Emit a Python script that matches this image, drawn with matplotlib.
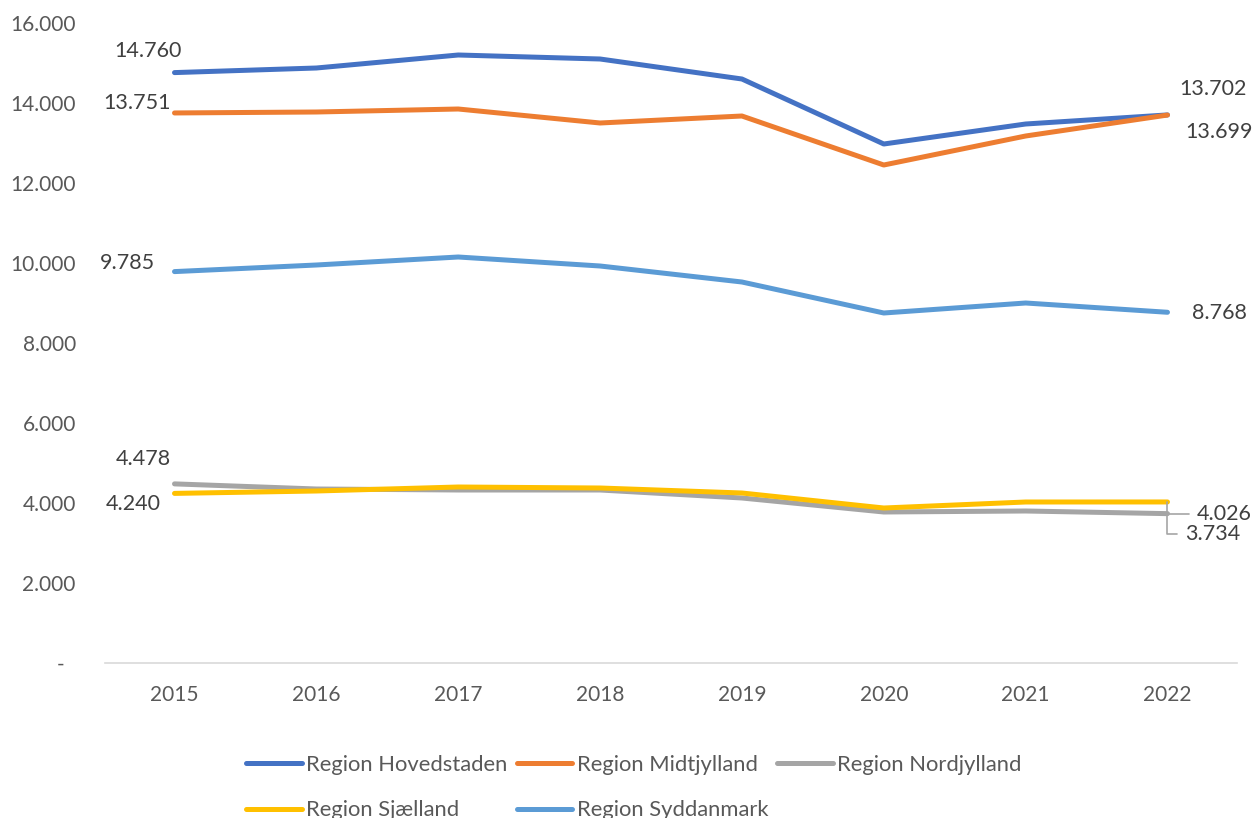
import matplotlib
matplotlib.use("Agg")
import matplotlib.pyplot as plt
from matplotlib.ticker import FuncFormatter

plt.rcParams['font.family'] = ['Lato', 'DejaVu Sans']

years = [2015, 2016, 2017, 2018, 2019, 2020, 2021, 2022]
hovedstaden = [14760, 14875, 15200, 15100, 14600, 12975, 13475, 13702]
midtjylland = [13751, 13775, 13850, 13500, 13675, 12450, 13175, 13699]
nordjylland = [4478, 4350, 4325, 4325, 4125, 3775, 3800, 3734]
sjaelland = [4240, 4300, 4400, 4375, 4250, 3875, 4025, 4026]
syddanmark = [9785, 9950, 10150, 9925, 9525, 8750, 9000, 8768]

series = [
    ("Region Hovedstaden", hovedstaden, "#4472C4"),
    ("Region Midtjylland", midtjylland, "#ED7D31"),
    ("Region Nordjylland", nordjylland, "#A5A5A5"),
    ("Region Sjælland", sjaelland, "#FFC000"),
    ("Region Syddanmark", syddanmark, "#5B9BD5"),
]

fig = plt.figure(figsize=(12.56, 8.18), dpi=100)
ax = fig.add_axes([105/1256, 155/818, 1132/1256, 640/818])

for name, vals, col in series:
    ax.plot(years, vals, color=col, lw=3.6, label=name,
            solid_capstyle='round', solid_joinstyle='round')

ax.set_xlim(2014.51, 2022.49)
ax.set_ylim(0, 16000)
ax.set_yticks(range(0, 16001, 2000))
ax.set_xticks(years)


def fmt(v, pos):
    if v == 0:
        return "-  "
    return f"{int(v):,}".replace(",", ".")


ax.yaxis.set_major_formatter(FuncFormatter(fmt))
for s in ['top', 'right', 'left']:
    ax.spines[s].set_visible(False)
ax.spines['bottom'].set_color('#D9D9D9')
ax.spines['bottom'].set_linewidth(1.2)
ax.tick_params(axis='both', length=0, labelsize=15, colors='#595959')
ax.tick_params(axis='x', pad=16)
ax.tick_params(axis='y', pad=21)


def lbl(x, v, dx, dy, leader=False):
    txt = f"{v:,}".replace(",", ".")
    kw = {}
    if leader:
        kw['arrowprops'] = dict(arrowstyle='-', color='#A5A5A5', lw=1.2,
                                connectionstyle='angle,angleA=0,angleB=90,rad=0',
                                shrinkA=4, shrinkB=0)
    ax.annotate(txt, xy=(x, v), xytext=(dx, dy), textcoords='offset pixels',
                ha='center', va='center', fontsize=15.5, color='#404040', **kw)


lbl(years[0], hovedstaden[0], -27, 22)
lbl(years[0], midtjylland[0], -37, 10)
lbl(years[0], syddanmark[0], -47, 9)
lbl(years[0], nordjylland[0], -31, 25)
lbl(years[0], sjaelland[0], -41, -11)
lbl(years[-1], hovedstaden[-1], 45, 26)
lbl(years[-1], midtjylland[-1], 52, -17)
lbl(years[-1], syddanmark[-1], 52, -1)
lbl(years[-1], sjaelland[-1], 57, -12, leader=True)
lbl(years[-1], nordjylland[-1], 45, -20, leader=True)

handles, labels = ax.get_legend_handles_labels()
order = [0, 3, 1, 4, 2]
leg = fig.legend([handles[i] for i in order], [labels[i] for i in order],
                 ncol=3, loc='upper left',
                 bbox_to_anchor=(246/1256, 1 - 755/818), frameon=False,
                 fontsize=15.8, handlelength=2.55, handletextpad=0.2,
                 columnspacing=0.4, labelspacing=1.15, borderaxespad=0,
                 borderpad=0)
for t in leg.get_texts():
    t.set_color('#595959')

fig.savefig("out.png", dpi=100)
